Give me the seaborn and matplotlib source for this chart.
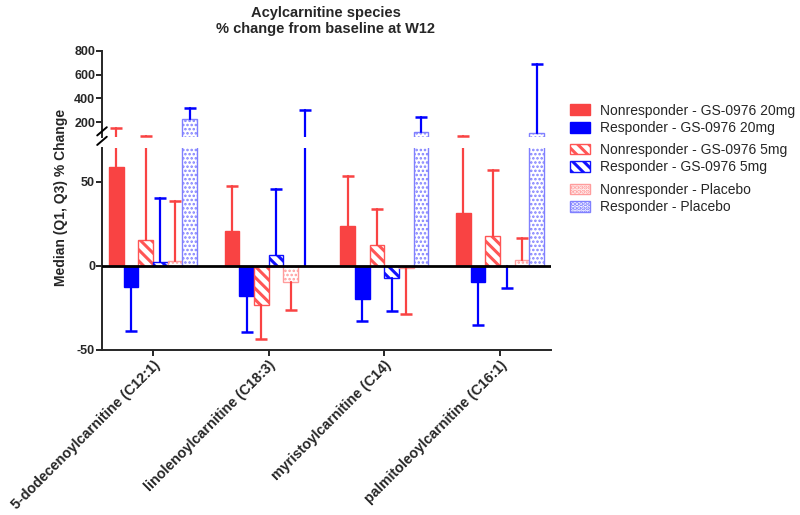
import numpy as np
import pandas as pd
import matplotlib
matplotlib.use("Agg")
import matplotlib.pyplot as plt
import matplotlib.patches as mpatches
import seaborn as sns

species = ["5-dodecenoylcarnitine (C12:1)", "linolenoylcarnitine (C18:3)",
           "myristoylcarnitine (C14)", "palmitoleoylcarnitine (C16:1)"]
groups = ["Nonresponder - GS-0976 20mg", "Responder - GS-0976 20mg",
          "Nonresponder - GS-0976 5mg", "Responder - GS-0976 5mg",
          "Nonresponder - Placebo", "Responder - Placebo"]

# median % change per group, one value per species
nr_20 = [58.8, 20.4, 23.8, 31.5]
r_20 = [-12.3, -17.7, -19.6, -9.7]
nr_5 = [15.3, -23.4, 12.1, 18.0]
r_5 = [2.0, 6.3, -7.3, 0.0]
nr_pl = [2.8, -9.9, -1.2, 3.2]
r_pl = [228, 0.0, 121, 110]

# end of the one-sided error bar (Q3 if up, Q1 if down)
nr_20_q = [147, 47.2, 53.6, 80]
r_20_q = [-39.0, -39.5, -32.7, -35.1]
nr_5_q = [80, -43.3, 33.5, 56.7]
r_5_q = [40.3, 45.6, -26.8, -13.1]
nr_pl_q = [38.3, -26.4, -28.4, 16.5]
r_pl_q = [318, 304, 242, 688]

medians = [nr_20, r_20, nr_5, r_5, nr_pl, r_pl]
ends = [nr_20_q, r_20_q, nr_5_q, r_5_q, nr_pl_q, r_pl_q]

RED = "#F94343"
BLUE = "#0000FF"
face = [RED, BLUE, "white", "white", "white", "white"]
edge = [RED, BLUE, "#FF5555", "#1010FF", "#FF9C9C", "#8080FF"]
hatch = [None, None, "\\\\\\", "\\\\\\", "....", "...."]
hatch_lw = [2.2, 2.2, 2.2, 2.2, 1.2, 1.2]
err_col = [RED, BLUE, RED, BLUE, RED, BLUE]

rows = []
for g, vals in zip(groups, medians):
    for s, v in zip(species, vals):
        rows.append({"species": s, "group": g, "median": v})
df = pd.DataFrame(rows)

sns.set_style("white")
plt.rcParams["font.family"] = ["Liberation Sans", "DejaVu Sans"]
plt.rcParams["hatch.linewidth"] = 2.2

fig = plt.figure(figsize=(8, 5.15), dpi=100)
ax_lo = fig.add_axes([0.1275, 0.3204, 0.5613, 0.3922])
ax_hi = fig.add_axes([0.1275, 0.734, 0.5613, 0.167])


def style_patch(p, i):
    p.set_facecolor(face[i])
    p.set_edgecolor(edge[i])
    p.set_linewidth(1.0)
    if hatch[i]:
        p.set_hatch(hatch[i])
        if hasattr(p, "set_hatch_linewidth"):
            p.set_hatch_linewidth(hatch_lw[i])


for ax in (ax_lo, ax_hi):
    sns.barplot(data=df, x="species", y="median", hue="group", hue_order=groups,
                order=species, palette=face, width=0.76, errorbar=None,
                saturation=1, legend=False, ax=ax)
    for i, cont in enumerate(ax.containers):
        for j, p in enumerate(cont.patches):
            style_patch(p, i)
            x = p.get_x() + p.get_width() / 2
            m, e = medians[i][j], ends[i][j]
            ax.plot([x, x], [m, e], color=err_col[i], lw=1.6, zorder=1)
            ax.plot([x], [e], marker="_", ms=8, mew=1.8, color=err_col[i], zorder=1)
    ax.set_xlim(-0.44, 3.44)
    ax.set_xlabel("")
    ax.set_ylabel("")
    sns.despine(ax=ax)
    for sp in ax.spines.values():
        sp.set_linewidth(1.4)
    ax.tick_params(axis="y", direction="out", length=4, width=1.4, left=True,
                   labelsize=9, pad=1)

ax_lo.set_ylim(-50, 70)
ax_lo.set_yticks([-50, 0, 50])
ax_lo.set_yticklabels(["-50", "0", "50"], fontweight="bold")
ax_lo.axhline(0, color="black", lw=2, zorder=5)
ax_lo.tick_params(axis="x", direction="out", length=4, width=1.4, bottom=True, pad=2)
ax_lo.set_xticks(range(len(species)))
ax_lo.set_xticklabels(species, rotation=45, ha="right", rotation_mode="anchor",
                      fontweight="bold", fontsize=10.3)

ax_hi.set_ylim(75, 800)
ax_hi.set_yticks([200, 400, 600, 800])
ax_hi.set_yticklabels(["200", "400", "600", "800"], fontweight="bold")
ax_hi.spines["bottom"].set_visible(False)
ax_hi.set_xticks([])
ax_hi.patch.set_alpha(0)

# axis break marks
for yb in (0.7265, 0.745):
    fig.add_artist(plt.Line2D([0.1215, 0.1335], [yb - 0.008, yb + 0.008],
                              color="black", lw=1.4, transform=fig.transFigure))

fig.text(0.076, 0.617, "Median (Q1, Q3) % Change", rotation=90, ha="center",
         va="center", fontweight="bold", fontsize=10)
fig.text(0.4075, 0.988, "Acylcarnitine species\n% change from baseline at W12",
         ha="center", va="top", fontweight="bold", fontsize=10.5, linespacing=1.15)

# legend in three pairs
pair_tops = [0.8097, 0.7334, 0.6557]
for k, top in enumerate(pair_tops):
    handles = []
    for i in (2 * k, 2 * k + 1):
        h = mpatches.Patch(facecolor=face[i], edgecolor=edge[i],
                           hatch=hatch[i], label=groups[i])
        if hatch[i] and hasattr(h, "set_hatch_linewidth"):
            h.set_hatch_linewidth(hatch_lw[i])
        handles.append(h)
    fig.legend(handles=handles, loc="upper left", bbox_to_anchor=(0.705, top),
               frameon=False, fontsize=10, handlelength=1.5, handleheight=0.8,
               handletextpad=0.7, labelspacing=0.25, borderaxespad=0)

fig.savefig("out.png", dpi=100)
